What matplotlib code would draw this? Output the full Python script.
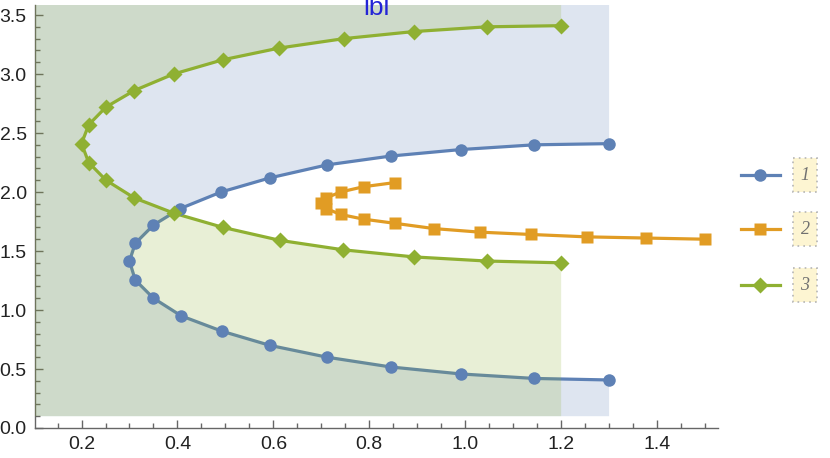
import matplotlib.pyplot as plt
from matplotlib.path import Path
from matplotlib.patches import PathPatch, Rectangle
from matplotlib.ticker import MultipleLocator

# series
blue_x = [1.30, 1.144, 0.991, 0.845, 0.712, 0.593, 0.491, 0.406, 0.35, 0.312, 0.30,
          0.312, 0.35, 0.408, 0.493, 0.593, 0.712, 0.845, 0.991, 1.144, 1.30]
blue_y = [2.41, 2.40, 2.36, 2.305, 2.23, 2.12, 2.00, 1.86, 1.72, 1.565, 1.415,
          1.254, 1.10, 0.95, 0.82, 0.70, 0.60, 0.517, 0.458, 0.42, 0.407]

orange_x = [0.853, 0.788, 0.74, 0.71, 0.70, 0.71, 0.74, 0.788, 0.853, 0.935,
            1.03, 1.138, 1.253, 1.376, 1.50]
orange_y = [2.08, 2.045, 2.00, 1.95, 1.905, 1.86, 1.81, 1.77, 1.735, 1.69,
            1.66, 1.64, 1.62, 1.61, 1.60]

green_x = [1.20, 1.045, 0.893, 0.747, 0.612, 0.494, 0.392, 0.31, 0.251, 0.215, 0.20,
           0.215, 0.251, 0.31, 0.393, 0.495, 0.614, 0.746, 0.893, 1.045, 1.20]
green_y = [3.41, 3.40, 3.36, 3.30, 3.22, 3.12, 3.00, 2.86, 2.72, 2.57, 2.41,
           2.25, 2.10, 1.95, 1.82, 1.70, 1.59, 1.51, 1.45, 1.415, 1.40]

labels = ['1', '2', '3']
blue, orange, green = '#5E81B5', '#E19C24', '#8FB032'


def hole_patch(xs, ys, color):
    # rectangle (clockwise) with the closed curve cut out (counter-clockwise)
    x0, x1, y0, y1 = 0.05, xs[0], 0.1, 5.0
    rect = [(x0, y0), (x0, y1), (x1, y1), (x1, y0), (x0, y0)]
    pts = list(zip(xs, ys))
    area = sum(a[0] * b[1] - b[0] * a[1] for a, b in zip(pts, pts[1:] + pts[:1]))
    if area < 0:
        pts = pts[::-1]
    pts = pts + [pts[0]]
    verts = rect + pts
    codes = ([Path.MOVETO] + [Path.LINETO] * 3 + [Path.CLOSEPOLY] +
             [Path.MOVETO] + [Path.LINETO] * (len(pts) - 2) + [Path.CLOSEPOLY])
    return PathPatch(Path(verts, codes), facecolor=color, alpha=0.2,
                     edgecolor='none', linewidth=0)


plt.rcParams['font.family'] = ['Liberation Sans', 'DejaVu Sans']
fig = plt.figure(figsize=(8.3, 4.58), dpi=100)
ax = fig.add_axes([35 / 830, 30 / 458, 683 / 830, 423 / 458])

ax.add_patch(hole_patch(blue_x, blue_y, blue)).set_zorder(1)
ax.plot(blue_x, blue_y, color=blue, lw=2.3, zorder=2)
ax.add_patch(hole_patch(green_x, green_y, green)).set_zorder(3)
ax.plot(green_x, green_y, color=green, lw=2.3, zorder=4)
ax.plot(orange_x, orange_y, color=orange, lw=2.3, zorder=4)
ax.plot(blue_x, blue_y, 'o', color=blue, ms=9, mec='none', zorder=5)
ax.plot(orange_x, orange_y, 's', color=orange, ms=9, mec='none', zorder=5)
ax.plot(green_x, green_y, 'D', color=green, ms=8.5, mec='none', zorder=5)

ax.text(0.814, 3.50, 'lbl', color='#2424D6', fontsize=19, ha='center',
        va='baseline', clip_on=False, zorder=6)

ax.set_xlim(0.103, 1.527)
ax.set_ylim(0, 3.585)
ax.xaxis.set_minor_locator(MultipleLocator(0.05))
ax.yaxis.set_minor_locator(MultipleLocator(0.1))
ax.set_xticks([0.2, 0.4, 0.6, 0.8, 1.0, 1.2, 1.4])
ax.set_yticks([0.0, 0.5, 1.0, 1.5, 2.0, 2.5, 3.0, 3.5])
ax.set_xticklabels(['0.2', '0.4', '0.6', '0.8', '1.0', '1.2', '1.4'])
ax.set_yticklabels(['0.0', '0.5', '1.0', '1.5', '2.0', '2.5', '3.0', '3.5'])
for s in ['top', 'right']:
    ax.spines[s].set_visible(False)
for s in ['left', 'bottom']:
    ax.spines[s].set_color('#666666')
    ax.spines[s].set_linewidth(1.0)
ax.tick_params(which='both', direction='in', color='#666666', width=1.0,
               labelsize=14, labelcolor='#222222')
ax.tick_params(which='major', length=6, pad=6)
ax.tick_params(which='minor', length=3.5)
ax.patch.set_visible(False)

# legend drawn in pixel space on the right
lax = fig.add_axes([0, 0, 1, 1])
lax.set_xlim(0, 830)
lax.set_ylim(458, 0)
lax.axis('off')
leg_y = [175, 229, 285]
for lab, col, mk, ms, ly in zip(labels, [blue, orange, green], ['o', 's', 'D'],
                                [9, 9, 8.5], leg_y):
    lax.plot([741, 780], [ly, ly], color=col, lw=2.3)
    lax.plot([760], [ly], mk, color=col, ms=ms, mec='none')
    lax.add_patch(Rectangle((793, ly - 17), 24, 34, facecolor='#FDF5D2',
                            edgecolor='#B5B5B5', linestyle=(0, (1, 2.5)), lw=1.2))
    lax.text(805, ly + 1, lab, fontsize=13, style='italic', color='#707070',
             family=['Liberation Serif', 'DejaVu Serif'], ha='center', va='center')

fig.savefig('out.png', dpi=100)
